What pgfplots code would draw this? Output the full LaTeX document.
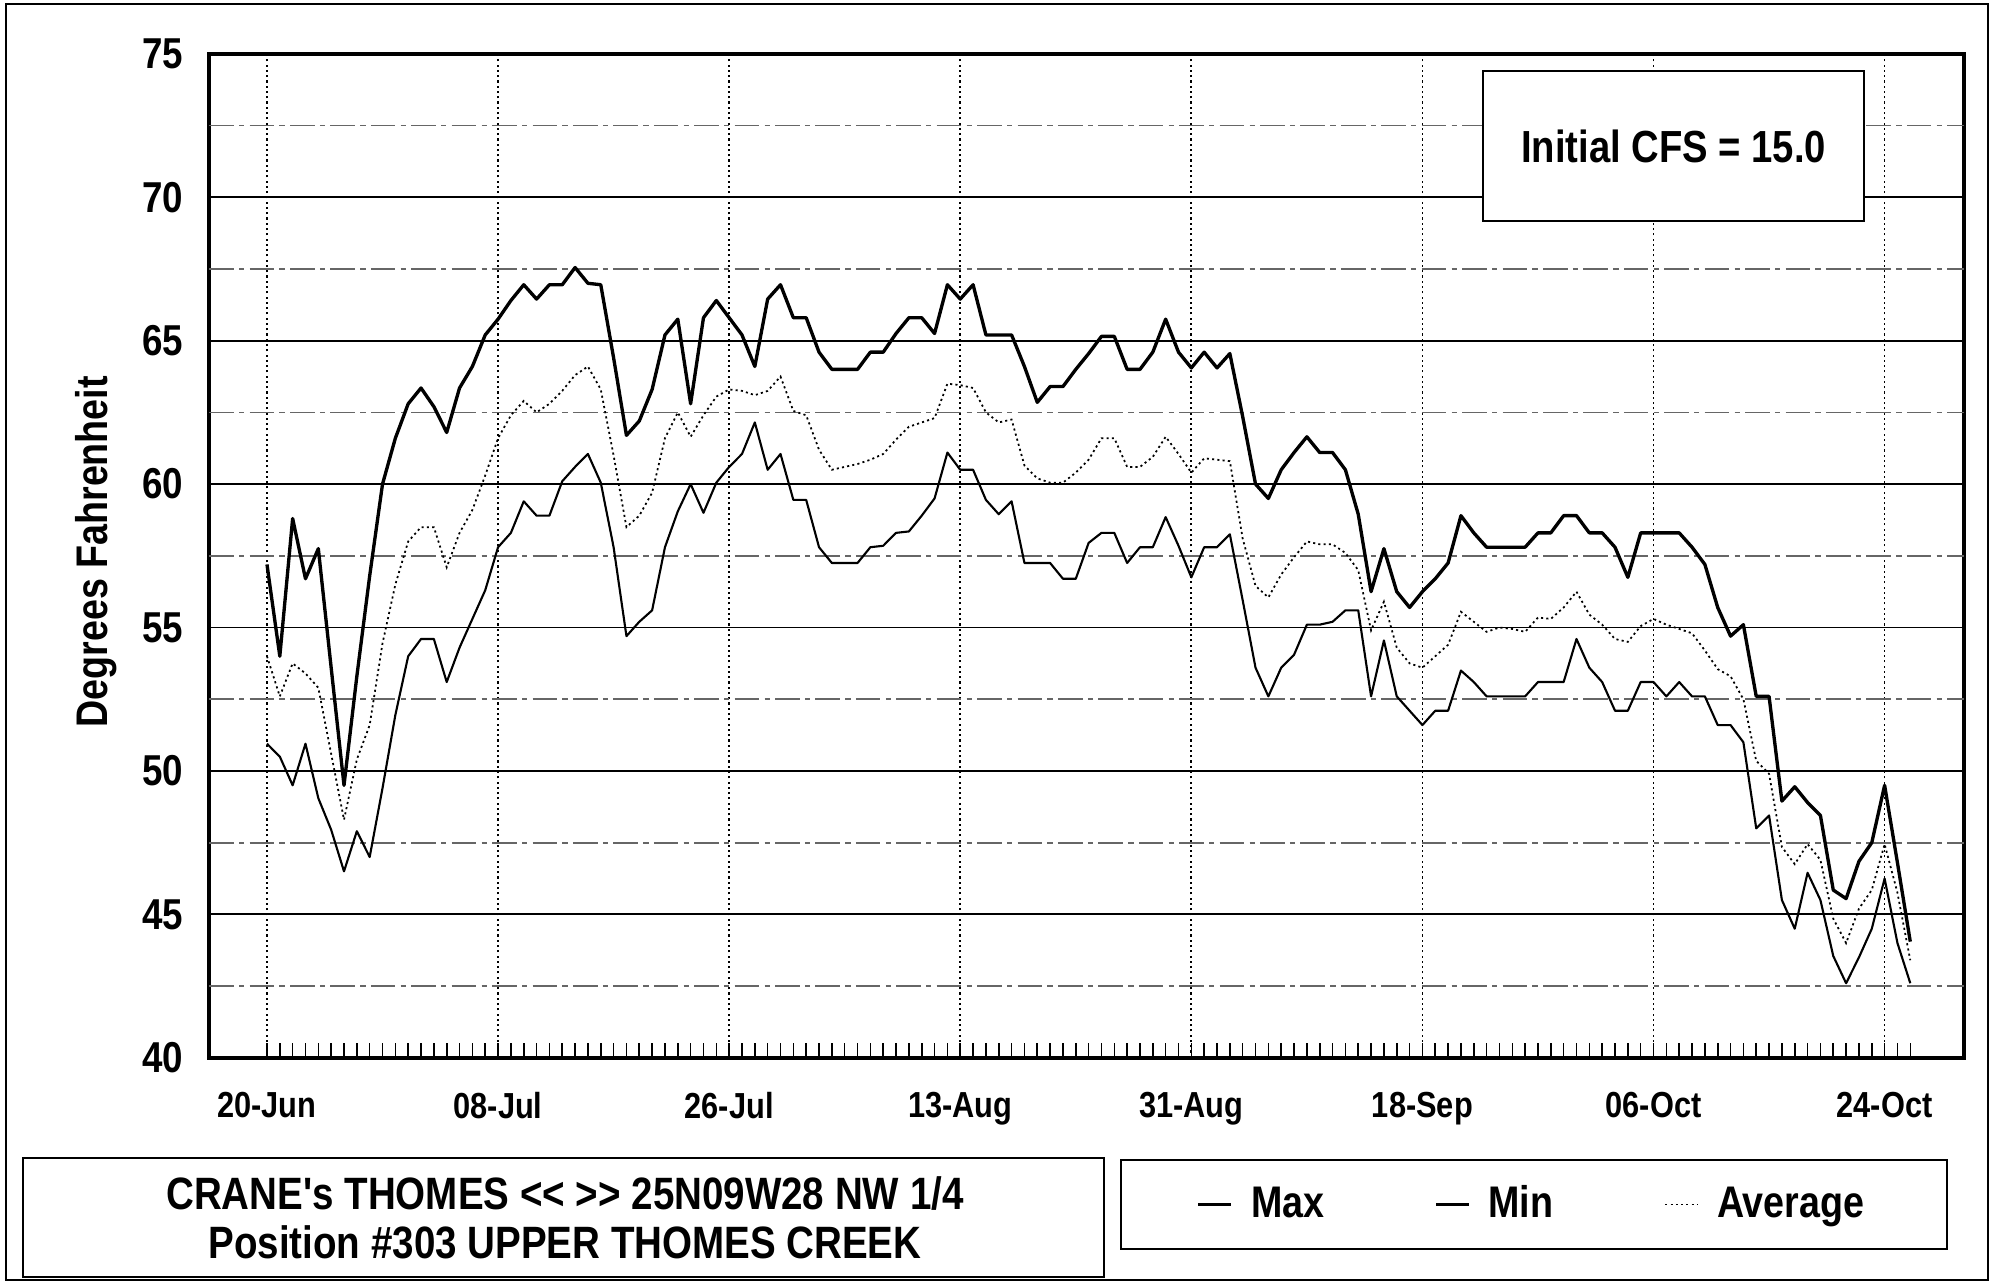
\documentclass[border=0pt]{standalone}
\usepackage{fontspec}
\setmainfont{Liberation Sans}[FakeStretch=0.85]
\newfontfamily\plainfont{Liberation Sans}[FakeStretch=0.85]
\usepackage{pgfplots}
\usepackage{pgfplotstable}
\pgfplotsset{compat=1.18}

% daily water temperature, day 0 = 20-Jun
\pgfplotstableread{
day max min avg
0 57.2 50.95 54.0
1 54.0 50.5 52.6
2 58.8 49.5 53.75
3 56.7 50.95 53.4
4 57.75 49.05 52.9
5 53.6 47.95 50.6
6 49.5 46.5 48.3
7 53.3 47.9 50.4
8 56.8 47.0 51.6
9 60.0 49.4 54.45
10 61.6 51.95 56.5
11 62.8 54.0 58.0
12 63.35 54.6 58.5
13 62.7 54.6 58.5
14 61.8 53.1 57.1
15 63.35 54.3 58.3
16 64.1 55.3 59.1
17 65.2 56.3 60.3
18 65.75 57.8 61.6
19 66.4 58.3 62.4
20 66.95 59.4 62.9
21 66.45 58.9 62.5
22 66.95 58.9 62.8
23 66.95 60.1 63.25
24 67.55 60.6 63.8
25 67.0 61.05 64.1
26 66.95 60.05 63.3
27 64.4 57.8 61.0
28 61.7 54.7 58.5
29 62.2 55.2 58.9
30 63.3 55.6 59.7
31 65.2 57.8 61.6
32 65.75 59.05 62.5
33 62.8 60.0 61.65
34 65.8 59.0 62.4
35 66.4 60.05 63.05
36 65.8 60.6 63.3
37 65.2 61.05 63.25
38 64.1 62.15 63.1
39 66.45 60.5 63.25
40 66.95 61.05 63.75
41 65.8 59.45 62.55
42 65.8 59.45 62.4
43 64.6 57.8 61.2
44 64.0 57.25 60.5
45 64.0 57.25 60.6
46 64.0 57.25 60.7
47 64.6 57.8 60.85
48 64.6 57.85 61.05
49 65.25 58.3 61.55
50 65.8 58.35 62.0
51 65.8 58.9 62.15
52 65.25 59.5 62.3
53 66.95 61.1 63.5
54 66.45 60.5 63.45
55 66.95 60.5 63.35
56 65.2 59.45 62.5
57 65.2 58.95 62.15
58 65.2 59.4 62.25
59 64.1 57.25 60.65
60 62.85 57.25 60.2
61 63.4 57.25 60.05
62 63.4 56.7 60.05
63 64.0 56.7 60.4
64 64.55 57.95 60.85
65 65.15 58.3 61.6
66 65.15 58.3 61.6
67 64.0 57.25 60.6
68 64.0 57.8 60.6
69 64.6 57.8 60.95
70 65.75 58.85 61.65
71 64.6 57.85 61.05
72 64.05 56.75 60.4
73 64.6 57.8 60.9
74 64.05 57.8 60.85
75 64.55 58.25 60.8
76 62.35 55.95 58.1
77 60.0 53.6 56.45
78 59.5 52.6 56.05
79 60.5 53.6 56.85
80 61.1 54.05 57.45
81 61.65 55.1 58.0
82 61.1 55.1 57.9
83 61.1 55.2 57.9
84 60.5 55.6 57.6
85 58.95 55.6 57.0
86 56.25 52.6 54.9
87 57.75 54.55 55.9
88 56.25 52.6 54.3
89 55.7 52.1 53.75
90 56.25 51.6 53.6
91 56.7 52.1 54.0
92 57.25 52.1 54.4
93 58.9 53.5 55.55
94 58.3 53.1 55.2
95 57.8 52.6 54.85
96 57.8 52.6 55.0
97 57.8 52.6 54.95
98 57.8 52.6 54.85
99 58.3 53.1 55.35
100 58.3 53.1 55.3
101 58.9 53.1 55.7
102 58.9 54.6 56.25
103 58.3 53.6 55.45
104 58.3 53.1 55.1
105 57.8 52.1 54.6
106 56.75 52.1 54.5
107 58.3 53.1 55.05
108 58.3 53.1 55.3
109 58.3 52.6 55.1
110 58.3 53.1 54.95
111 57.8 52.6 54.8
112 57.2 52.6 54.2
113 55.7 51.6 53.55
114 54.7 51.6 53.3
115 55.1 51.0 52.5
116 52.6 48.0 50.35
117 52.6 48.45 49.9
118 48.95 45.5 47.35
119 49.45 44.5 46.75
120 48.9 46.45 47.45
121 48.45 45.5 46.9
122 45.85 43.55 44.85
123 45.55 42.6 44.0
124 46.85 43.5 45.2
125 47.5 44.5 45.85
126 49.5 46.25 47.45
127 46.8 44.0 45.75
128 44.05 42.6 43.4
}\temps

\begin{document}
\begin{tikzpicture}
\useasboundingbox (0,0) rectangle (20.09cm,12.83cm);
\draw[line width=0.6pt] (0.06cm,0.03cm) rectangle (19.88cm,12.79cm);

\begin{axis}[
    at={(2.092cm,2.252cm)}, anchor=south west,
    scale only axis, width=17.55cm, height=10.04cm,
    xmin=-4.5, xmax=132.2, ymin=40, ymax=75,
    axis line style={line width=1.1pt},
    tick align=inside, tick pos=left,
    xtick={0,18,...,126},
    xticklabels={20-Jun,08-Jul,26-Jul,13-Aug,31-Aug,18-Sep,06-Oct,24-Oct},
    minor xtick={0,1,...,128},
    major tick length=1.5mm, minor tick length=1.5mm,
    tick style={black, line width=0.45pt},
    ytick={40,45,...,75},
    xmajorgrids, ymajorgrids,
    x grid style={black, line width=0.5pt, dash pattern=on 0.6pt off 0.9pt},
    y grid style={black, line width=0.55pt, solid},
    extra y ticks={42.5,47.5,...,72.5},
    extra y tick labels={},
    extra y tick style={grid=major, major tick length=0pt,
        y grid style={black!60, line width=0.5pt, dash pattern=on 7pt off 1.5pt on 1.5pt off 1.5pt}},
    /pgf/number format/assume math mode=true,
    xticklabel style={font=\fontsize{10.3}{12}\selectfont\bfseries, anchor=north, inner sep=0pt, yshift=-3.4mm},
    yticklabel style={font=\fontsize{12.3}{14}\selectfont\bfseries, anchor=east, inner sep=0pt, xshift=-2.56mm},
    ylabel={Degrees Fahrenheit},
    ylabel style={at={(axis description cs:-0.0643,0.504)}, anchor=center, font=\fontsize{12.6}{14}\selectfont\bfseries},
    legend columns=3,
    legend image code/.code={\draw[#1] (0mm,0mm) -- (3.3mm,0mm); \path (4.4mm,0mm);},
    legend style={at={(axis description cs:0.7549,-0.1461)}, anchor=center,
        draw=none, fill=none,
        font=\fontsize{12.6}{15}\selectfont\bfseries,
        /tikz/every even column/.append style={column sep=10.4mm}},
]
\addplot[black, line width=0.95pt, line join=round] table[x=day, y=max] {\temps};
\addlegendentry{Max}
\addplot[black, line width=0.6pt, line join=round] table[x=day, y=min] {\temps};
\addlegendentry{Min}
\addplot[black, line width=0.5pt, dash pattern=on 0.6pt off 0.9pt] table[x=day, y=avg] {\temps};
\addlegendentry{Average}
\end{axis}

% legend frame
\draw[line width=0.6pt] (11.21cm,0.34cm) rectangle (19.47cm,1.23cm);

\node[draw, line width=0.6pt, fill=white, minimum width=3.81cm, minimum height=1.50cm,
      font=\fontsize{12.8}{15}\selectfont\bfseries] at (16.735cm,11.37cm) {Initial CFS = 15.0};

\draw[line width=0.6pt] (0.23cm,0.06cm) rectangle (11.04cm,1.25cm);
\node[align=center, font=\plainfont\fontsize{12.9}{13.9}\selectfont\bfseries] at (5.65cm,0.655cm)
    {CRANE's THOMES << >> 25N09W28 NW 1/4\\Position \#303 UPPER THOMES CREEK};
\end{tikzpicture}
\end{document}
